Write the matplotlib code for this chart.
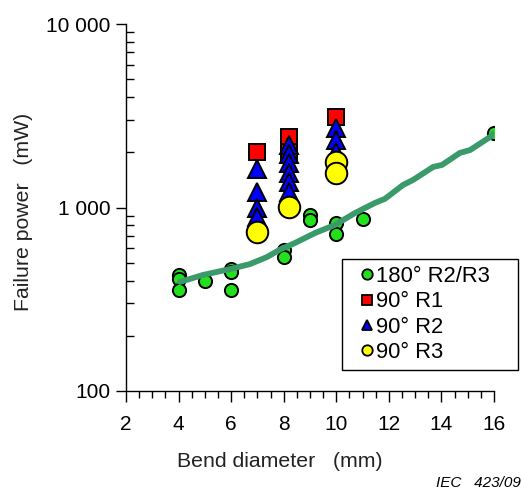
import numpy as np
import matplotlib.pyplot as plt
from matplotlib.patches import Rectangle

plt.rcParams['font.family'] = ['Liberation Sans', 'DejaVu Sans']

# 180 deg bends, R2/R3 fibres
d180 = [4, 4, 4, 5, 6, 6, 6, 8, 8, 9, 9, 10, 10, 11, 16]
p180 = [430, 407, 355, 400, 465, 445, 355, 586, 537, 910, 855, 824, 720, 865, 2550]

# hand-drawn trend line through the 180 deg data
fit_d = [4.05, 4.93, 5.96, 6.72, 7.36, 7.86, 8.43, 9.19, 9.95, 10.71, 11.47,
         11.85, 12.54, 12.92, 13.68, 14.02, 14.70, 15.09, 15.85, 16.0]
fit_p = [393, 429, 462, 492, 537, 590, 641, 726, 804, 933, 1059,
         1115, 1327, 1413, 1663, 1706, 1983, 2057, 2422, 2530]

# 90 deg bends
d_r1 = [7, 8.2, 8.2, 10]
p_r1 = [2005, 2420, 2005, 3110]

d_r2 = [7, 7, 7, 7, 8.2, 8.2, 8.2, 8.2, 8.2, 8.2, 10, 10, 10]
p_r2 = [1622, 1213, 996, 887, 2193, 1960, 1748, 1543, 1377, 1213, 2710, 2333, 2005]

d_r3 = [7, 8.2, 10, 10]
p_r3 = [735, 1007, 1770, 1543]

fig = plt.figure(figsize=(5.23, 4.92), dpi=100)
ax = fig.add_axes([0.241, 0.2053, 0.7036, 0.7459])

ax.plot(d180, p180, 'o', ms=9.5, mfc='#22e01c', mec='black', mew=1.4,
        label='180° R2/R3', zorder=3)
ax.plot(fit_d, fit_p, '-', color='#3a9a69', lw=4.2, solid_capstyle='round',
        solid_joinstyle='round', zorder=4)
ax.plot(d_r1, p_r1, 's', ms=12, mfc='#ff0000', mec='black', mew=1.4,
        label='90° R1', zorder=5)
ax.plot(d_r2, p_r2, '^', ms=12.5, mfc='#0000ff', mec='black', mew=1.4,
        label='90° R2', zorder=6)
ax.plot(d_r3, p_r3, 'o', ms=15.5, mfc='#ffff00', mec='black', mew=1.4,
        label='90° R3', zorder=7)

ax.set_yscale('log')
ax.set_xlim(2, 16)
ax.set_ylim(100, 10000)
ax.set_xticks(np.arange(2, 17, 2))
ax.set_xticks(np.arange(2, 16.5, 0.5), minor=True)
ax.set_yticks([100, 1000, 10000])
ax.set_yticklabels(['100', '1 000', '10 000'])
ax.yaxis.set_minor_formatter(plt.NullFormatter())

for side in ('top', 'right'):
    ax.spines[side].set_visible(False)
for side in ('left', 'bottom'):
    ax.spines[side].set_linewidth(1.0)

ax.tick_params(axis='x', which='major', direction='out', length=8, width=1,
               labelsize=15, pad=9, colors='black')
ax.tick_params(axis='x', which='minor', direction='out', length=5, width=1)
ax.tick_params(axis='y', which='major', direction='out', length=7, width=1,
               labelsize=15, pad=4)
ax.tick_params(axis='y', which='minor', direction='in', length=6, width=1)

ax.set_xlabel('Bend diameter   (mm)', fontsize=15.3, color='#222222')
ax.set_ylabel('Failure power   (mW)', fontsize=15.3, color='#222222')
ax.xaxis.set_label_coords(0.418, -0.166)
ax.yaxis.set_label_coords(-0.253, 0.488)

# legend entries without frame, box drawn separately
leg = fig.legend(*ax.get_legend_handles_labels(), loc='upper left',
                 bbox_to_anchor=(358 / 523, 1 - 266 / 492), fontsize=15.8,
                 frameon=False, handletextpad=0.0, handlelength=0.8,
                 borderpad=0, labelspacing=0.2, borderaxespad=0)
for h in leg.legend_handles:
    h.set_markersize(7.5)
    h.set_markeredgewidth(1.3)
fig.add_artist(Rectangle((342 / 523, 1 - 370 / 492), 176 / 523, 111 / 492,
                         transform=fig.transFigure, fill=False,
                         edgecolor='black', lw=1.0))

fig.text(0.995, 0.004, 'IEC   423/09', ha='right', va='bottom', fontsize=11,
         style='italic')

fig.savefig('out.png', dpi=100)
